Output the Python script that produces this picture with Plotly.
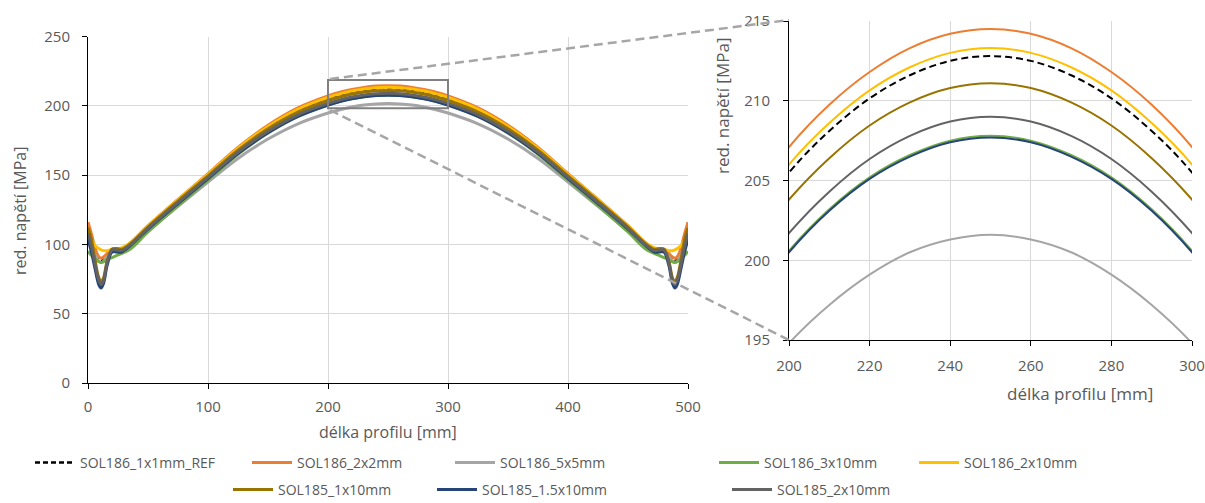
import plotly.graph_objects as go

W, H = 1205, 503

# ---------------- data ----------------
x_mm = [0, 3, 6, 9, 11, 13, 16, 20, 24, 28, 35, 50, 75, 100, 125, 150, 175,
        200, 210, 220, 230, 240, 250, 260, 270, 280, 290, 300,
        325, 350, 375, 400, 425, 450, 465, 472, 476, 480, 484, 487, 489, 491, 494, 497, 500]

names = ["SOL186_1x1mm_REF", "SOL186_2x2mm", "SOL186_5x5mm", "SOL186_3x10mm",
         "SOL186_2x10mm", "SOL185_1x10mm", "SOL185_1.5x10mm", "SOL185_2x10mm"]

ref_1x1 = [115, 105, 95, 89, 88, 89, 92, 95.5, 96, 96, 100.5, 113, 131.9, 150.3, 169, 184.7, 197.1,
           205.5, 208.1, 210.15, 211.6, 212.5, 212.8, 212.5, 211.6, 210.15, 208.1, 205.5,
           197.1, 184.7, 169, 150.3, 131.9, 113, 100.5, 96, 96, 95.5, 92, 89, 88, 89, 95, 105, 115]
s186_2x2 = [116, 107, 97, 91, 90, 91, 93.5, 96.5, 97, 97, 101, 113.5, 132.5, 151, 170, 186, 198.5,
            207.1, 209.75, 211.8, 213.3, 214.2, 214.5, 214.2, 213.3, 211.8, 209.75, 207.1,
            198.5, 186, 170, 151, 132.5, 113.5, 101, 97, 97, 96.5, 93.5, 91, 90, 91, 97, 107, 116]
s186_5x5 = [110, 100, 92, 88, 87, 88, 91, 94.5, 95, 95, 98, 109.5, 127.5, 145, 162, 176, 187,
            194.8, 197.2, 199.1, 200.5, 201.3, 201.6, 201.3, 200.5, 199.1, 197.2, 194.8,
            187, 176, 162, 145, 127.5, 109.5, 98, 95, 95, 94.5, 91, 88, 87, 88, 92, 100, 110]
s186_3x10 = [95, 92, 89.5, 87.5, 87, 87.5, 89, 90.5, 92, 93.5, 96.5, 109, 128, 146.5, 165, 180.3, 192.3,
             200.6, 203.2, 205.2, 206.6, 207.5, 207.8, 207.5, 206.6, 205.2, 203.2, 200.6,
             192.3, 180.3, 165, 146.5, 128, 109, 96.5, 93.5, 92, 90.5, 89, 87.5, 87, 87.5, 89.5, 92, 95]
s186_2x10 = [108, 103, 99, 97, 96, 95.5, 95.5, 96.5, 97, 97.5, 101, 113.3, 132.2, 150.5, 169.3, 185.1, 197.5,
             206.0, 208.6, 210.65, 212.1, 213.0, 213.3, 213.0, 212.1, 210.65, 208.6, 206.0,
             197.5, 185.1, 169.3, 150.5, 132.2, 113.3, 101, 97.5, 97, 96.5, 95.5, 95.5, 96, 97, 99, 103, 108]
s185_1x10 = [112, 103, 88, 76, 73, 76, 88, 96.5, 97, 96.5, 100.2, 112.5, 131.3, 149.5, 168, 183.5, 195.5,
             203.8, 206.4, 208.45, 209.9, 210.8, 211.1, 210.8, 209.9, 208.45, 206.4, 203.8,
             195.5, 183.5, 168, 149.5, 131.3, 112.5, 100.2, 96.5, 97, 96.5, 88, 76, 73, 76, 88, 103, 112]
s185_15x10 = [104, 94, 82, 71, 68.5, 72, 85, 94.5, 94.5, 94.5, 99, 111, 129.5, 147.5, 165.5, 180.5, 192.3,
              200.5, 203.1, 205.1, 206.5, 207.4, 207.7, 207.4, 206.5, 205.1, 203.1, 200.5,
              192.3, 180.5, 165.5, 147.5, 129.5, 111, 99, 94.5, 94.5, 94.5, 85, 72, 68.5, 71, 82, 94, 104]
s185_2x10 = [108, 98, 85, 74, 71, 74, 87, 96, 96, 95.5, 99.5, 111.6, 130.2, 148.3, 166.5, 181.6, 193.5,
             201.7, 204.3, 206.35, 207.8, 208.7, 209.0, 208.7, 207.8, 206.35, 204.3, 201.7,
             193.5, 181.6, 166.5, 148.3, 130.2, 111.6, 99.5, 95.5, 96, 96, 87, 74, 71, 74, 85, 98, 108]

series = [ref_1x1, s186_2x2, s186_5x5, s186_3x10, s186_2x10, s185_1x10, s185_15x10, s185_2x10]
colors = ["#000000", "#ED7D31", "#A5A5A5", "#70AD47", "#FFC000", "#997300", "#264478", "#636363"]

main_xticks = [0, 100, 200, 300, 400, 500]
main_yticks = [0, 50, 100, 150, 200, 250]
inset_xticks = [200, 220, 240, 260, 280, 300]
inset_yticks = [195, 200, 205, 210, 215]

# legend line start positions (px) and rows
leg_x = [35, 252, 455, 719, 919, 233, 437, 732]
leg_row_y = [463, 463, 463, 463, 463, 490, 490, 490]

FONT = "Open Sans"
TXT = "#595959"

fig = go.Figure()

for i, (nm, ys, c) in enumerate(zip(names, series, colors)):
    dash_main = "5px,3px" if i == 0 else "solid"
    lg = "legend" if i == 0 else f"legend{i+1}"
    fig.add_trace(go.Scatter(x=x_mm, y=ys, name=nm, mode="lines",
                             line=dict(color=c, width=3 if i else 2.5, dash=dash_main, shape="spline"),
                             xaxis="x", yaxis="y", legend=lg, showlegend=True))
for i, (nm, ys, c) in enumerate(zip(names, series, colors)):
    dash_in = "7px,4px" if i == 0 else "solid"
    fig.add_trace(go.Scatter(x=x_mm, y=ys, name=nm, mode="lines",
                             line=dict(color=c, width=2, dash=dash_in, shape="spline"),
                             xaxis="x2", yaxis="y2", showlegend=False))

def axis(**kw):
    d = dict(showline=True, linecolor="#000000", linewidth=1, ticks="outside",
             ticklen=5, tickcolor="#000000", showgrid=True, gridcolor="#D9D9D9",
             gridwidth=1, zeroline=False,
             tickfont=dict(family=FONT, size=15, color=TXT))
    d.update(kw)
    return d

layout = dict(
    width=W, height=H,
    margin=dict(l=0, r=0, t=0, b=0, autoexpand=False),
    paper_bgcolor="white", plot_bgcolor="white",
    xaxis=axis(domain=[88 / W, 688 / W], range=[0, 500], tickvals=main_xticks, anchor="y",
               ticklabelstandoff=5),
    yaxis=axis(domain=[(H - 383) / H, (H - 36.5) / H], range=[0, 250], tickvals=main_yticks, anchor="x",
               ticklabelstandoff=9),
    xaxis2=axis(domain=[789 / W, 1192 / W], range=[200, 300], tickvals=inset_xticks, anchor="y2",
                ticklabelstandoff=7),
    yaxis2=axis(domain=[(H - 340) / H, (H - 21) / H], range=[195, 215], tickvals=inset_yticks, anchor="x2",
                ticklabelstandoff=10),
    showlegend=True,
)

for i in range(8):
    key = "legend" if i == 0 else f"legend{i+1}"
    layout[key] = dict(x=(leg_x[i] - 5) / W, y=1 - leg_row_y[i] / H, xanchor="left", yanchor="middle",
                       orientation="h", bgcolor="rgba(0,0,0,0)", borderwidth=0, itemwidth=40,
                       font=dict(family=FONT, size=14, color=TXT))

fig.update_layout(**layout)

# zoom box on main chart
fig.add_shape(type="rect", xref="x", yref="y", x0=200, x1=300, y0=198.3, y1=218.6,
              line=dict(color="#808080", width=2), fillcolor="rgba(0,0,0,0)", layer="above")
# connector dashed lines (paper coords)
fig.add_shape(type="line", xref="paper", yref="paper", x0=330 / W, y0=1 - 79 / H, x1=789 / W, y1=1 - 20 / H,
              line=dict(color="#A6A6A6", width=2.5, dash="9px,5px"))
fig.add_shape(type="line", xref="paper", yref="paper", x0=330 / W, y0=1 - 110 / H, x1=789 / W, y1=1 - 340 / H,
              line=dict(color="#A6A6A6", width=2.5, dash="9px,5px"))

# axis titles
def ann(text, px, py, size, angle=0):
    fig.add_annotation(text=text, x=px / W, y=1 - py / H, xref="paper", yref="paper",
                       showarrow=False, textangle=angle, xanchor="center", yanchor="middle",
                       font=dict(family=FONT, size=size, color=TXT))

ann("red. napětí [MPa]", 20, 211, 16, -90)
ann("délka profilu [mm]", 388, 432, 16)
ann("red. napětí [MPa]", 722, 106, 17, -90)
ann("délka profilu [mm]", 1080, 393, 17)

fig.write_html("out.html", config={"displayModeBar": False},
               post_script="document.body.style.margin='0px';document.body.style.overflow='hidden';")
